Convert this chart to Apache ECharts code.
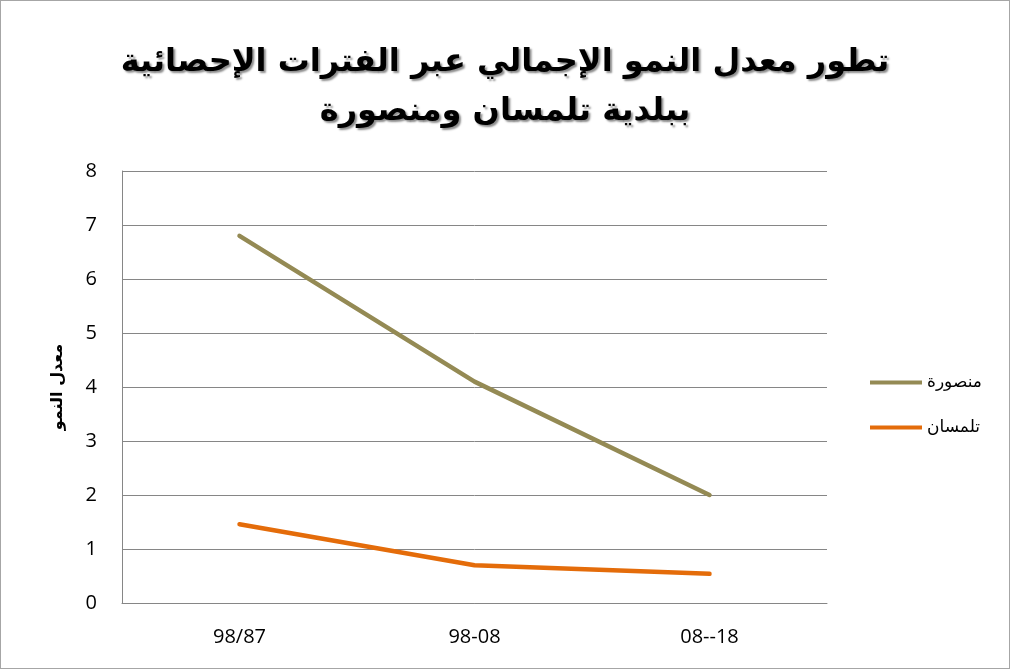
<html>
<head>
    <meta charset="utf-8">
    <script src="https://cdn.jsdelivr.net/npm/echarts@6/dist/echarts.min.js"></script>
    <style>
        body { margin: 0; background: #fff; }
        #main { width: 1008px; height: 667px; border: 1px solid #a6a6a6; }
    </style>
</head>
<body>
<div id="main"></div>
<script type="text/javascript">
    // data
    var periods = ['98/87', '98-08', '08--18'];
    var mansoura = [6.8, 4.1, 2.0];
    var tlemcen = [1.46, 0.70, 0.54];
    var yTicks = [0, 1, 2, 3, 4, 5, 6, 7, 8];

    var myChart = echarts.init(document.getElementById('main'));

    var option = {
        animation: false,
        title: {
            text: 'تطور معدل النمو الإجمالي عبر الفترات الإحصائية\nببلدية تلمسان ومنصورة',
            left: 'center',
            top: 32,
            textStyle: {
                fontFamily: 'DejaVu Sans',
                fontSize: 32,
                fontWeight: 'bold',
                color: '#000',
                lineHeight: 49,
                textShadowColor: 'rgba(0,0,0,0.45)',
                textShadowBlur: 2,
                textShadowOffsetX: 2,
                textShadowOffsetY: 2
            }
        },
        legend: {
            orient: 'vertical',
            left: 864,
            top: 368,
            itemWidth: 52,
            itemHeight: 4,
            itemGap: 28,
            icon: 'rect',
            textStyle: { fontFamily: 'DejaVu Sans', fontSize: 17, color: '#000' },
            data: ['منصورة', 'تلمسان']
        },
        grid: { left: 121, right: 182, top: 170, bottom: 65 },
        xAxis: {
            type: 'category',
            data: periods,
            boundaryGap: true,
            axisLine: { lineStyle: { color: '#868686' } },
            axisTick: { show: false },
            axisLabel: { fontFamily: 'Open Sans', fontSize: 20, color: '#000', margin: 24 }
        },
        yAxis: {
            type: 'value',
            min: yTicks[0],
            max: yTicks[yTicks.length - 1],
            interval: 1,
            name: 'معدل النمو',
            nameLocation: 'middle',
            nameGap: 56,
            nameRotate: 90,
            nameTextStyle: { fontFamily: 'DejaVu Sans', fontSize: 16, fontWeight: 'bold', color: '#000' },
            axisLine: { show: true, lineStyle: { color: '#868686' } },
            axisTick: { show: false },
            splitLine: { lineStyle: { color: '#868686' } },
            axisLabel: { fontFamily: 'Open Sans', fontSize: 20, color: '#000', margin: 25 }
        },
        series: [
            {
                name: 'منصورة',
                type: 'line',
                data: mansoura,
                symbol: 'none',
                color: '#948a54',
                lineStyle: { width: 4.5, color: '#948a54', cap: 'round' }
            },
            {
                name: 'تلمسان',
                type: 'line',
                data: tlemcen,
                symbol: 'none',
                color: '#e46c0a',
                lineStyle: { width: 4.5, color: '#e46c0a', cap: 'round' }
            }
        ]
    };

    myChart.setOption(option);
</script>
</body>
</html>
